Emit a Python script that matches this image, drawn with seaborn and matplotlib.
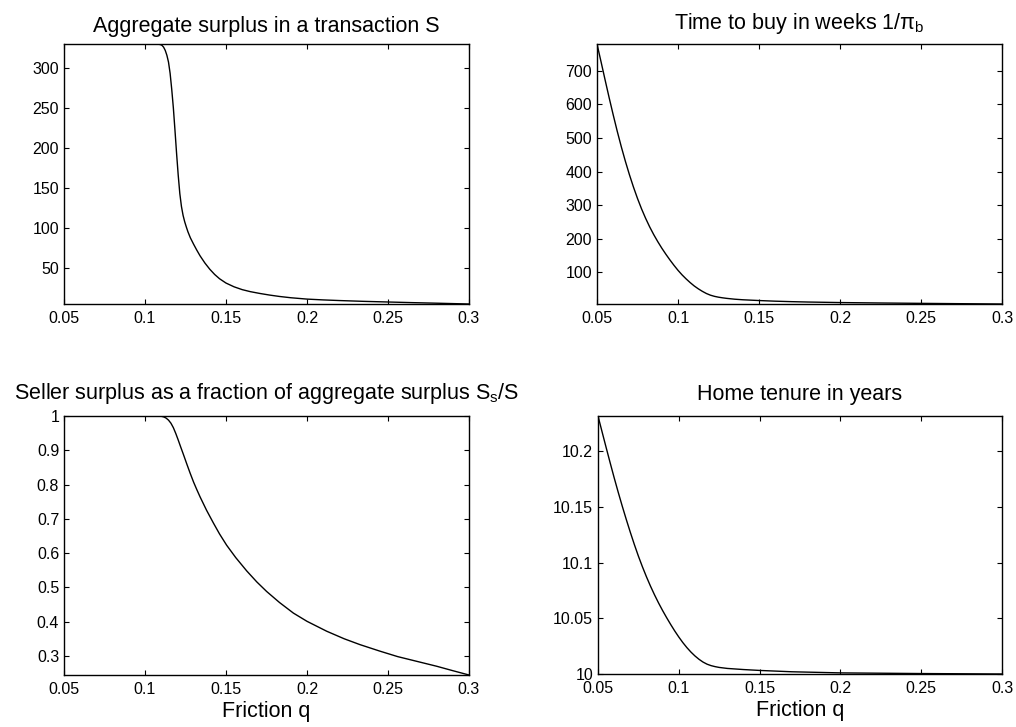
import matplotlib
matplotlib.use("Agg")
import matplotlib.pyplot as plt
import seaborn as sns

# Friction grid points and model outcomes for each panel
q_surplus = [0.05, 0.07, 0.09, 0.10, 0.1060, 0.1080, 0.1095, 0.1105, 0.1115, 0.1125,
             0.1135, 0.1145, 0.1155, 0.1165, 0.1175, 0.1185, 0.1195, 0.1205, 0.1215,
             0.1225, 0.1235, 0.1245, 0.1255, 0.1265, 0.1280, 0.1300, 0.1320, 0.1340,
             0.1370, 0.1400, 0.1430, 0.1460, 0.1500, 0.1550, 0.1600, 0.1650, 0.1710,
             0.1770, 0.1830, 0.1900, 0.2000, 0.2100, 0.2200, 0.2350, 0.2500, 0.2650,
             0.2800, 0.2900, 0.3000]
surplus = [329.5, 329.5, 329.5, 329.5, 329.5, 329.3, 328.8, 327.8, 325.5, 321.5,
           315.5, 307.0, 293.0, 273.0, 250.0, 222.0, 193.0, 166.0, 143.0,
           127.0, 116.0, 108.0, 101.5, 95.5, 88.0, 80.0, 72.5, 65.5,
           56.5, 48.8, 42.3, 37.0, 31.6, 26.9, 23.4, 20.9, 18.6,
           16.6, 14.9, 13.3, 11.6, 10.6, 9.8, 8.8, 8.0, 7.2,
           6.5, 6.0, 5.5]

q_buy = [0.05, 0.0525, 0.055, 0.0575, 0.06, 0.0625, 0.065, 0.0675, 0.07, 0.0725,
         0.075, 0.0775, 0.08, 0.0825, 0.085, 0.0875, 0.09, 0.0925, 0.095, 0.0975,
         0.10, 0.1025, 0.105, 0.1075, 0.11, 0.1125, 0.115, 0.1175, 0.12, 0.1225,
         0.125, 0.1275, 0.13, 0.135, 0.14, 0.15, 0.16, 0.17, 0.18, 0.20, 0.225,
         0.25, 0.275, 0.30]
time_to_buy = [780, 727, 673, 620, 569, 520, 474, 431, 391, 354,
               320, 289, 261, 235.5, 212.5, 191.5, 172, 154, 137, 121,
               106, 92.5, 80.5, 69.5, 59.5, 51, 43.5, 37, 32, 28.5,
               26, 24.1, 22.5, 20, 18.3, 16, 14.1, 12.7, 11.6, 10, 8.7,
               7.6, 6.6, 5.7]

q_share = [0.05, 0.08, 0.10, 0.108, 0.1100, 0.1115, 0.1130, 0.1145, 0.1160, 0.1175,
           0.1190, 0.1205, 0.1220, 0.1237, 0.1258, 0.1278, 0.1300, 0.1320, 0.1340,
           0.1380, 0.1422, 0.1460, 0.1504, 0.1560, 0.1628, 0.1690, 0.1751, 0.1830,
           0.1916, 0.2000, 0.2122, 0.2230, 0.2327, 0.2450, 0.2560, 0.2680, 0.2800,
           0.2900, 0.3000]
seller_share = [1.0, 1.0, 1.0, 1.0, 0.9993, 0.9975, 0.994, 0.988, 0.979, 0.966,
                0.949, 0.930, 0.910, 0.888, 0.860, 0.834, 0.807, 0.785, 0.764,
                0.725, 0.688, 0.656, 0.623, 0.587, 0.548, 0.516, 0.488, 0.456,
                0.425, 0.401, 0.372, 0.350, 0.333, 0.314, 0.298, 0.284, 0.270,
                0.257, 0.2444]

q_tenure = [0.05, 0.0525, 0.055, 0.0575, 0.06, 0.0625, 0.065, 0.0675, 0.07, 0.0725,
            0.075, 0.0775, 0.08, 0.0825, 0.085, 0.0875, 0.09, 0.0925, 0.095, 0.0975,
            0.10, 0.1025, 0.105, 0.1075, 0.11, 0.1125, 0.115, 0.1175, 0.12, 0.1225,
            0.125, 0.13, 0.14, 0.15, 0.17, 0.20, 0.25, 0.30]
tenure = [10.2316, 10.2175, 10.2035, 10.1897, 10.1762, 10.1632, 10.1507, 10.1387, 10.1272, 10.1162,
          10.1058, 10.0962, 10.0872, 10.0788, 10.0710, 10.0637, 10.0569, 10.0505, 10.0444, 10.0386,
          10.0332, 10.0282, 10.0237, 10.0197, 10.0162, 10.0132, 10.0107, 10.0088, 10.0075, 10.0066,
          10.0059, 10.0050, 10.0040, 10.0032, 10.0020, 10.0010, 10.0004, 10.0]

x_ticks = [0.05, 0.1, 0.15, 0.2, 0.25, 0.3]
x_tick_labels = ["0.05", "0.1", "0.15", "0.2", "0.25", "0.3"]
surplus_ticks = [50, 100, 150, 200, 250, 300]
buy_ticks = [100, 200, 300, 400, 500, 600, 700]
share_ticks = [0.3, 0.4, 0.5, 0.6, 0.7, 0.8, 0.9, 1.0]
share_tick_labels = ["0.3", "0.4", "0.5", "0.6", "0.7", "0.8", "0.9", "1"]
tenure_ticks = [10.0, 10.05, 10.1, 10.15, 10.2]
tenure_tick_labels = ["10", "10.05", "10.1", "10.15", "10.2"]

titles = [
    "Aggregate surplus in a transaction S",
    r"Time to buy in weeks 1/$\pi_{\mathregular{b}}$",
    r"Seller surplus as a fraction of aggregate surplus S$_{\mathregular{s}}$/S",
    "Home tenure in years",
]
x_label = "Friction q"

sns.set_style("ticks")
plt.rcParams["font.family"] = ["Liberation Sans", "DejaVu Sans"]
plt.rcParams["mathtext.fontset"] = "custom"
plt.rcParams["mathtext.rm"] = "Liberation Sans"
plt.rcParams["mathtext.it"] = "Liberation Sans"
plt.rcParams["mathtext.bf"] = "Liberation Sans:bold"

W, H = 1016, 727
fig = plt.figure(figsize=(W / 100, H / 100), dpi=100)
fig.patch.set_facecolor("white")


def box(left, top, right, bottom):
    return [left / W, 1 - bottom / H, (right - left) / W, (bottom - top) / H]


ax_tl = fig.add_axes(box(64, 44, 469, 304))
ax_tr = fig.add_axes(box(597, 44, 1002, 304))
ax_bl = fig.add_axes(box(64, 416, 469, 675))
ax_br = fig.add_axes(box(598, 416, 1002, 674))

panels = [
    (ax_tl, q_surplus, surplus, surplus_ticks, [str(t) for t in surplus_ticks], titles[0], 8.9, False),
    (ax_tr, q_buy, time_to_buy, buy_ticks, [str(t) for t in buy_ticks], titles[1], 10.5, False),
    (ax_bl, q_share, seller_share, share_ticks, share_tick_labels, titles[2], 12.5, True),
    (ax_br, q_tenure, tenure, tenure_ticks, tenure_tick_labels, titles[3], 11.5, True),
]

for ax, xs, ys, yt, ytl, title, pad, bottom_row in panels:
    sns.lineplot(x=xs, y=ys, ax=ax, color="black", linewidth=1.0, estimator=None)
    ax.set_xlim(0.05, 0.3)
    ax.set_ylim(min(ys), max(ys))
    ax.set_xticks(x_ticks)
    ax.set_xticklabels(x_tick_labels)
    ax.set_yticks(yt)
    ax.set_yticklabels(ytl)
    ax.tick_params(direction="in", top=True, right=True, length=3.6, width=0.8,
                   labelsize=11.5, colors="black")
    ax.tick_params(axis="x", pad=5)
    ax.tick_params(axis="y", pad=3.5)
    for s in ax.spines.values():
        s.set_visible(True)
        s.set_linewidth(1.0)
        s.set_color("black")
    ax.set_facecolor("white")
    ax.set_title(title, fontsize=15.5, pad=pad, color="black")
    ax.set_ylabel("")
    ax.set_xlabel(x_label if bottom_row else "", fontsize=15.5, labelpad=3, color="black")

fig.savefig("out.png", dpi=100)
